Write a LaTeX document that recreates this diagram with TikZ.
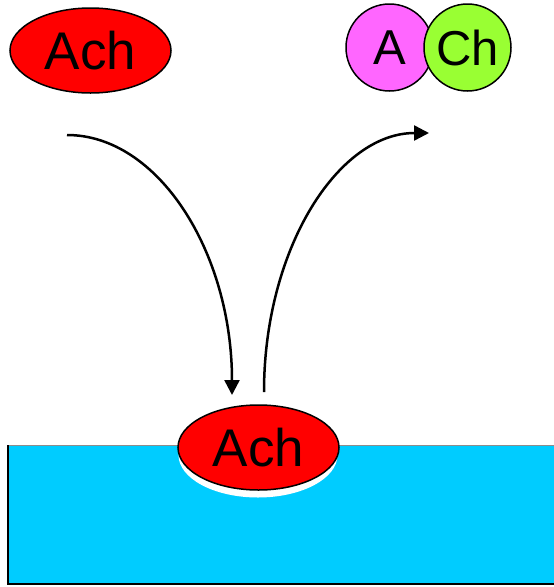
\documentclass[tikz,border=0pt]{standalone}
\usepackage{fontspec}
\setmainfont{Liberation Sans}
\usetikzlibrary{shapes.geometric,arrows.meta}
\definecolor{achred}{HTML}{FF0000}
\definecolor{apink}{HTML}{FF66FF}
\definecolor{chgreen}{HTML}{99FF33}
\definecolor{membrane}{HTML}{00CCFF}
\tikzset{
  molecule/.style={ellipse, draw=black, line width=1.5pt, fill=achred,
    minimum width=161pt, minimum height=85pt, inner sep=0pt,
    font=\fontsize{53}{60}\selectfont},
  shadowell/.style={ellipse, fill=white, minimum width=159pt, minimum height=85pt, inner sep=0pt},
  ball/.style={circle, draw=black, line width=1.5pt, minimum size=87pt, inner sep=0pt,
    font=\fontsize{49}{56}\selectfont},
  flow/.style={line width=2.5pt, -{Triangle[length=15pt,width=15pt]}}
}
\begin{document}
\begin{tikzpicture}[x=1pt,y=-1pt]
\useasboundingbox (0,0) rectangle (554,587);
% membrane
\fill[membrane] (8,445) rectangle (570,584);
\draw[black!45, line width=1pt] (8,445) -- (570,445);
\draw[black, line width=2pt] (570,584) -- (8,584) -- (8,445);
% bound molecule with shadow
\node[shadowell] (shadow) at (258,455) {};
\node[molecule] (ach2) at (258.5,447.5) {Ach};
% free molecule
\node[molecule] (ach1) at (90.5,50.5) {Ach};
% split products
\node[ball, fill=apink] (A) at (389.5,47.5) {A};
\node[ball, fill=chgreen] (Ch) at (467.5,47.5) {Ch};
% arrows
\coordinate (s1) at (67,135);
\coordinate (e1) at (232,395);
\coordinate (s2) at (264,392);
\coordinate (e2) at (429,133);
\draw[flow] (s1) .. controls (158,135) and (232,252) .. (e1);
\draw[flow] (s2) .. controls (264,249) and (338,133) .. (e2);
\end{tikzpicture}
\end{document}
